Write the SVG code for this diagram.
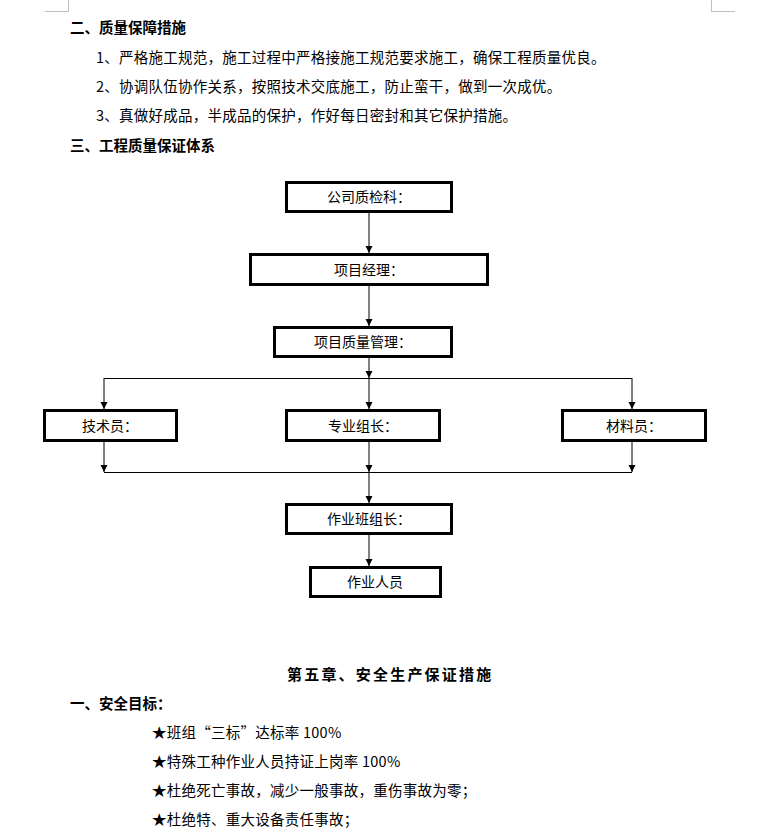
<svg xmlns="http://www.w3.org/2000/svg" width="780" height="839" viewBox="0 0 780 839">
<style>
  .t { font-family: "Noto Sans CJK SC", "Liberation Sans", sans-serif; font-size: 14.5px; letter-spacing: 0.25px; fill: #000; }
  .h { font-family: "Noto Sans CJK SC", "Liberation Sans", sans-serif; font-size: 14.5px; font-weight: bold; fill: #000; }
  .box { fill: #fff; stroke: #000; stroke-width: 3; }
  .bt { font-family: "Noto Sans CJK SC", "Liberation Sans", sans-serif; font-size: 14px; fill: #000; text-anchor: middle; }
  .ln { stroke: #000; stroke-width: 1; fill: none; }
  .crn { stroke: #bfbfbf; stroke-width: 1; fill: none; }
</style>
<defs>
  <marker id="ah" markerUnits="userSpaceOnUse" markerWidth="8" markerHeight="8" refX="7" refY="3.5" orient="auto">
    <path d="M0,0 L7,3.5 L0,7 Z" fill="#000"/>
  </marker>
</defs>
<rect width="780" height="839" fill="#fff"/>
<path class="crn" d="M68.5,0 V11.5 H45"/>
<path class="crn" d="M711.5,0 V11.5 H735"/>

<text class="h" x="70" y="33">二、质量保障措施</text>
<text class="t" x="96" y="63">1、严格施工规范，施工过程中严格接施工规范要求施工，确保工程质量优良。</text>
<text class="t" x="96" y="92">2、协调队伍协作关系，按照技术交底施工，防止蛮干，做到一次成优。</text>
<text class="t" x="96" y="121">3、真做好成品，半成品的保护，作好每日密封和其它保护措施。</text>
<text class="h" x="70" y="151">三、工程质量保证体系</text>

<g id="connectors">
  <line class="ln" x1="369" y1="213" x2="369" y2="253" marker-end="url(#ah)"/>
  <line class="ln" x1="369" y1="286" x2="369" y2="326" marker-end="url(#ah)"/>
  <line class="ln" x1="369" y1="358" x2="369" y2="378" marker-end="url(#ah)"/>
  <line class="ln" x1="104" y1="378.5" x2="632" y2="378.5"/>
  <line class="ln" x1="369" y1="378" x2="369" y2="409" marker-end="url(#ah)"/>
  <line class="ln" x1="104" y1="378" x2="104" y2="409" marker-end="url(#ah)"/>
  <line class="ln" x1="632" y1="378" x2="632" y2="409" marker-end="url(#ah)"/>
  <line class="ln" x1="104" y1="442" x2="104" y2="472" marker-end="url(#ah)"/>
  <line class="ln" x1="369" y1="442" x2="369" y2="472" marker-end="url(#ah)"/>
  <line class="ln" x1="632" y1="442" x2="632" y2="472" marker-end="url(#ah)"/>
  <line class="ln" x1="104" y1="472.5" x2="632" y2="472.5"/>
  <line class="ln" x1="369" y1="472" x2="369" y2="503" marker-end="url(#ah)"/>
  <line class="ln" x1="369" y1="535" x2="369" y2="566" marker-end="url(#ah)"/>
</g>

<g id="n1"><rect class="box" x="286.5" y="182.5" width="165" height="29"/><text class="bt" x="369" y="202">公司质检科：</text></g>
<g id="n2"><rect class="box" x="250.5" y="254.5" width="237" height="30"/><text class="bt" x="369" y="275">项目经理：</text></g>
<g id="n3"><rect class="box" x="274.5" y="327.5" width="177" height="29"/><text class="bt" x="363" y="347">项目质量管理：</text></g>
<g id="n4"><rect class="box" x="44.5" y="410.5" width="132" height="30"/><text class="bt" x="110" y="431">技术员：</text></g>
<g id="n5"><rect class="box" x="286.5" y="410.5" width="153" height="30"/><text class="bt" x="363" y="431">专业组长：</text></g>
<g id="n6"><rect class="box" x="562.5" y="410.5" width="143" height="30"/><text class="bt" x="634" y="431">材料员：</text></g>
<g id="n7"><rect class="box" x="286.5" y="504.5" width="165" height="29"/><text class="bt" x="369" y="524">作业班组长：</text></g>
<g id="n8"><rect class="box" x="310.5" y="567.5" width="130" height="29"/><text class="bt" x="375" y="587">作业人员</text></g>

<text class="h" x="287" y="680" style="font-size:15px;letter-spacing:2.2px">第五章、安全生产保证措施</text>
<text class="h" x="70" y="709">一、安全目标：</text>
<text class="t" x="152" y="738">★班组“三标”达标率 100%</text>
<text class="t" x="152" y="767">★特殊工种作业人员持证上岗率 100%</text>
<text class="t" x="152" y="796">★杜绝死亡事故，减少一般事故，重伤事故为零；</text>
<text class="t" x="152" y="825">★杜绝特、重大设备责任事故；</text>
</svg>
